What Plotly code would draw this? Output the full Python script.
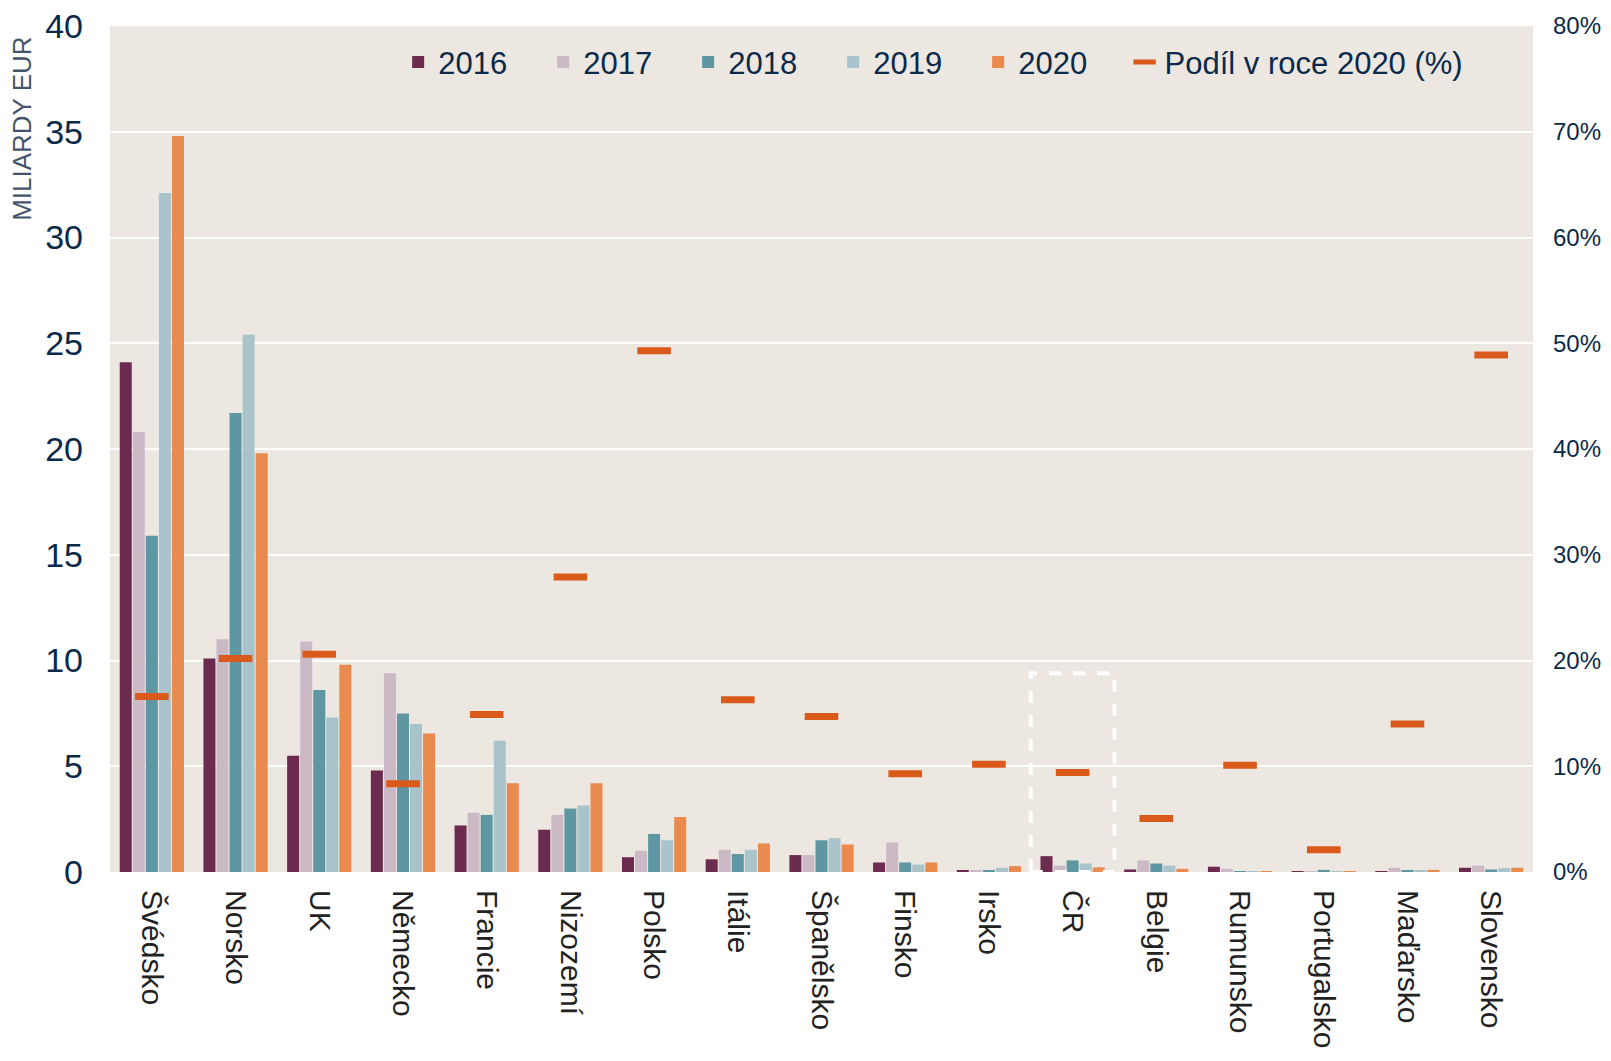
import plotly.graph_objects as go

countries = ["Švédsko", "Norsko", "UK", "Německo", "Francie", "Nizozemí", "Polsko", "Itálie",
             "Španělsko", "Finsko", "Irsko", "ČR", "Belgie", "Rumunsko", "Portugalsko",
             "Maďarsko", "Slovensko"]

v2016 = [24.1, 10.1, 5.5, 4.8, 2.2, 2.0, 0.7, 0.6, 0.8, 0.45, 0.05, 0.75, 0.12, 0.25, 0.01, 0.02, 0.2]
v2017 = [20.8, 11.0, 10.9, 9.4, 2.8, 2.7, 1.0, 1.05, 0.8, 1.4, 0.05, 0.3, 0.55, 0.15, 0.02, 0.2, 0.3]
v2018 = [15.9, 21.7, 8.6, 7.5, 2.7, 3.0, 1.8, 0.85, 1.5, 0.45, 0.08, 0.55, 0.4, 0.02, 0.1, 0.08, 0.12]
v2019 = [32.1, 25.4, 7.3, 7.0, 6.2, 3.15, 1.5, 1.05, 1.6, 0.35, 0.2, 0.4, 0.3, 0.02, 0.02, 0.08, 0.18]
v2020 = [34.8, 19.8, 9.8, 6.55, 4.2, 4.2, 2.6, 1.35, 1.3, 0.45, 0.28, 0.22, 0.15, 0.02, 0.02, 0.1, 0.2]
share2020 = [16.6, 20.2, 20.6, 8.35, 14.9, 27.9, 49.3, 16.3, 14.7, 9.3, 10.2, 9.4, 5.05, 10.1, 2.1, 14.0, 48.9]

years = ["2016", "2017", "2018", "2019", "2020"]
series = [v2016, v2017, v2018, v2019, v2020]
colors = ["#6B2B4E", "#CBBAC6", "#5E97A1", "#A8C3C9", "#E98A4E"]
share_color = "#DA5A1B"
text_color = "#0B2A4A"
font_family = "Liberation Sans, Arial, sans-serif"

fig = go.Figure()
for name, vals, col in zip(years, series, colors):
    fig.add_trace(go.Bar(x=countries, y=vals, name=name, marker_color=col,
                         marker_line_width=0, legend="legend"))

fig.add_trace(go.Scatter(x=countries, y=share2020, name="Podíl v roce 2020 (%)", mode="markers",
                         yaxis="y2", legend="legend2",
                         marker=dict(symbol="line-ew", size=24,
                                     line=dict(width=7, color=share_color), color=share_color)))

fig.add_shape(type="rect", xref="x", yref="y", x0=10.5, x1=11.5, y0=0, y1=9.4,
              line=dict(color="white", width=4, dash="dash"), layer="above")

fig.add_annotation(text="MILIARDY EUR", xref="paper", yref="paper", x=-0.0614, y=0.878,
                   textangle=-90, showarrow=False, xanchor="center", yanchor="middle",
                   font=dict(size=26, color="#44546A", family=font_family))

legend_common = dict(orientation="h", yanchor="middle", xanchor="left",
                     bgcolor="rgba(0,0,0,0)", font=dict(size=31, color=text_color))

fig.update_layout(
    width=1595, height=1045,
    margin=dict(l=102, r=70, t=18, b=181),
    paper_bgcolor="white", plot_bgcolor="#ECE7E1",
    barmode="group", bargap=0.22, bargroupgap=0.08,
    font=dict(family=font_family, color=text_color),
    legend=dict(x=0.2025, y=0.957, entrywidth=100, traceorder="normal", **legend_common),
    legend2=dict(x=0.713, y=0.957, **legend_common),
    xaxis=dict(range=[-0.5, len(countries) - 0.5], tickangle=90,
               tickfont=dict(size=30, color="#222222"), showgrid=False,
               ticks="", ticklabelstandoff=17, showline=False, automargin=False,
               ticklabeloverflow="allow"),
    yaxis=dict(range=[0, 40], dtick=5, gridcolor="white", gridwidth=2,
               tickfont=dict(size=34, color=text_color), zeroline=False,
               ticklabelstandoff=26, automargin=False, ticklabeloverflow="allow"),
    yaxis2=dict(range=[0, 80], dtick=10, ticksuffix="%", overlaying="y", side="right",
                showgrid=False, zeroline=False, tickfont=dict(size=24, color=text_color),
                ticklabelstandoff=19, automargin=False, ticklabeloverflow="allow"),
    showlegend=True,
)

fig.write_html("out.html")
